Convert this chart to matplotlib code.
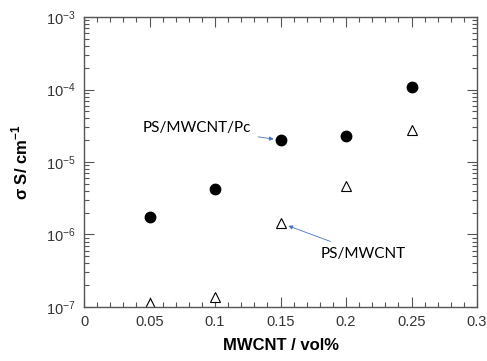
import matplotlib
matplotlib.use("Agg")
import matplotlib.pyplot as plt
from matplotlib.ticker import MultipleLocator, LogLocator, NullFormatter

# data
x_vol = [0.05, 0.1, 0.15, 0.2, 0.25]
pc_sigma = [1.76e-6, 4.3e-6, 2.0e-5, 2.3e-5, 1.09e-4]      # PS/MWCNT/Pc
ps_sigma = [1.15e-7, 1.39e-7, 1.44e-6, 4.65e-6, 2.8e-5]    # PS/MWCNT
x_ticks = [0, 0.05, 0.1, 0.15, 0.2, 0.25, 0.3]
x_tick_labels = ['0', '0.05', '0.1', '0.15', '0.2', '0.25', '0.3']

plt.rcParams['font.family'] = ['Liberation Sans', 'DejaVu Sans']

fig = plt.figure(figsize=(4.87, 3.61), dpi=100)
ax = fig.add_axes([0.1725, 0.1496, 0.807, 0.8033])

ax.plot(x_vol, pc_sigma, 'o', color='black', markersize=7.5, linestyle='none')
ax.plot(x_vol, ps_sigma, '^', markerfacecolor='white', markeredgecolor='black',
        markersize=7.5, markeredgewidth=0.8, linestyle='none')

ax.set_yscale('log')
ax.set_xlim(0, 0.3)
ax.set_ylim(1e-7, 1e-3)

ax.xaxis.set_minor_locator(MultipleLocator(0.01))
ax.set_xticks(x_ticks)
ax.set_xticklabels(x_tick_labels)
ax.yaxis.set_major_locator(LogLocator(base=10, numticks=10))
ax.yaxis.set_minor_locator(LogLocator(base=10, subs=range(2, 10), numticks=20))
ax.yaxis.set_minor_formatter(NullFormatter())

ax.tick_params(which='both', direction='in', top=True, right=True,
               colors='#555555', labelcolor='#333333', labelsize=10.5)
ax.tick_params(which='major', length=7, width=0.8, pad=6)
ax.tick_params(which='minor', length=3.5, width=0.8)
for s in ax.spines.values():
    s.set_color('#555555')
    s.set_linewidth(1.0)

ax.set_xlabel('MWCNT / vol%', fontsize=12, fontweight='bold', labelpad=6)
ax.set_ylabel('σ S/ cm$^{\\mathregular{-1}}$', fontsize=12,
              fontweight='bold', labelpad=11)

ax.annotate('PS/MWCNT/Pc', xy=(x_vol[2], pc_sigma[2]), xytext=(-21, 9),
            textcoords='offset points', ha='right', va='center',
            fontsize=11, family=['Lato', 'DejaVu Sans'],
            arrowprops=dict(arrowstyle='-|>', color='#4472c4', lw=0.6,
                            shrinkA=3, shrinkB=5, mutation_scale=6))
ax.annotate('PS/MWCNT', xy=(x_vol[2], ps_sigma[2]), xytext=(29, -22),
            textcoords='offset points', ha='left', va='center',
            fontsize=11, family=['Lato', 'DejaVu Sans'],
            arrowprops=dict(arrowstyle='-|>', color='#4472c4', lw=0.6,
                            shrinkA=5, shrinkB=6, mutation_scale=6))

fig.savefig('out.png', dpi=100)
